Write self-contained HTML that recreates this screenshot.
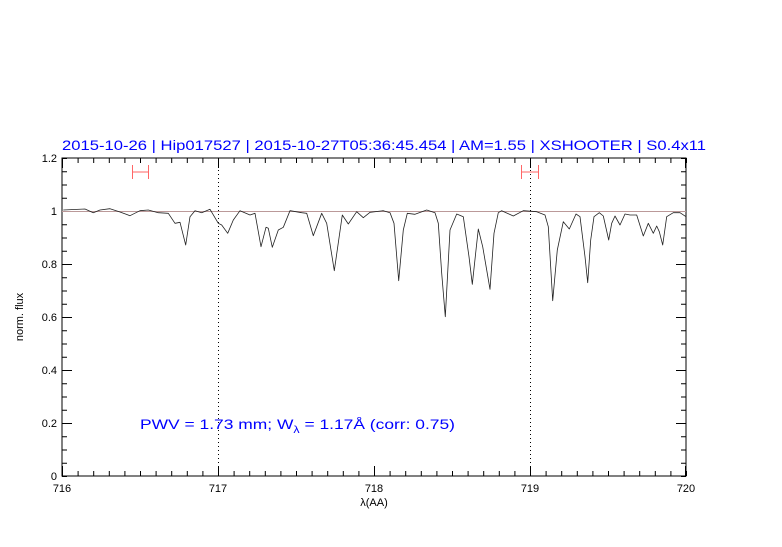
<!DOCTYPE html>
<html><head><meta charset="utf-8"><style>
body{margin:0;background:#fff;width:782px;height:542px;overflow:hidden}
svg text{font-family:"Liberation Sans",sans-serif}
</style></head><body>
<svg width="782" height="542" viewBox="0 0 782 542" xmlns="http://www.w3.org/2000/svg">
<rect x="62" y="158" width="624" height="318" fill="none" stroke="#000" stroke-width="1"/>
<g stroke="#000" fill="none">
<line x1="62" y1="473.5" x2="687" y2="473.5" stroke-width="5" stroke-dasharray="1 14.6"/>
<line x1="62" y1="160.5" x2="687" y2="160.5" stroke-width="5" stroke-dasharray="1 14.6"/>
<line x1="64.5" y1="158" x2="64.5" y2="477" stroke-width="5" stroke-dasharray="1 12.25"/>
<line x1="683.5" y1="158" x2="683.5" y2="477" stroke-width="5" stroke-dasharray="1 12.25"/>
<path d="M62.5 476v-10M218.5 476v-10M374.5 476v-10M530.5 476v-10M685.5 476v-10M62.5 158v10M218.5 158v10M374.5 158v10M530.5 158v10M685.5 158v10" stroke-width="1"/>
<path d="M62 423.5h10M62 370.5h10M62 317.5h10M62 264.5h10M62 211.5h10M686 423.5h-10M686 370.5h-10M686 317.5h-10M686 264.5h-10M686 211.5h-10" stroke-width="1"/>
</g>
<line x1="62" y1="211.5" x2="686" y2="211.5" stroke="#b99" stroke-width="1"/>
<line x1="218.5" y1="158" x2="218.5" y2="476" stroke="#000" stroke-width="1" stroke-dasharray="1 3"/>
<line x1="530.5" y1="158" x2="530.5" y2="476" stroke="#000" stroke-width="1" stroke-dasharray="1 3"/>
<g stroke="#f66" stroke-width="1">
<path d="M132.5 165v14M148.5 165v14M132 172h16M521.5 165v14M538.5 165v14M521 172h17"/>
</g>
<polyline fill="none" stroke="#222" stroke-width="0.8" stroke-linejoin="round" points="63.3,210 85,209 93.3,212.7 100,210 110,208.7 120,212 130,215.7 140,210.7 148.3,210 158.3,212.7 168.3,213.3 175,223.3 180,222.3 185.7,245 190,216.7 195,210.7 201.7,212.7 210,209.3 218.3,223.3 221.7,225 227.7,233.3 233.3,220 240,210.7 250,215 255,213.3 261,246.7 266,227.3 268.3,228.3 272.3,247.3 278.3,230 283.3,227.3 290,210.7 301.7,212.7 306.7,213.3 313.3,235.7 321.7,213.3 326.7,223.3 334.3,270.7 342.3,215 348.3,224 356.7,211.7 363.3,217.7 370,212.3 383.3,210.7 390,212.7 394,223.3 398.7,280.7 403.3,230 407.3,213.3 415,214.3 426.7,210 435,212.7 438.3,223.3 441.7,273.3 445.3,316.7 450,230 456.7,214 463.3,216.7 469,256.7 472.3,284.3 476,250 478.3,229 482.7,246.7 486.7,270 490,289.3 494,233.3 498.3,212.7 501.7,210.7 513.3,216 523.3,210.7 536.7,211.7 545,215 548.3,226.7 552.7,300.7 557.3,250 563.3,221.7 566,225 569.3,229 576,214 580,216.7 585,256.7 587.7,282.7 590.7,240 594,216.7 599.3,212.7 603.3,216 608.7,240 611.7,223.3 615,216 620,225 625,214 630,215 636.7,215 643.3,236 648.3,223.3 653.3,233.3 656.7,226 659.3,231.7 662.7,245 666.7,216.7 673.3,212.7 680,212.7 686,216.7"/>
<g font-size="11" fill="#000" text-anchor="end">
<text x="57" y="480">0</text><text x="57" y="427">0.2</text><text x="57" y="374">0.4</text><text x="57" y="321">0.6</text><text x="57" y="268">0.8</text><text x="57" y="215">1</text><text x="57" y="162">1.2</text>
</g>
<g font-size="11" fill="#000" text-anchor="middle">
<text x="62" y="492">716</text><text x="218" y="492">717</text><text x="374" y="492">718</text><text x="530" y="492">719</text><text x="686" y="492">720</text>
<text x="374" y="506">λ(AA)</text>
</g>
<text x="0" y="0" font-size="11" text-anchor="middle" transform="translate(23,317) rotate(-90)">norm. flux</text>
<text x="384" y="150" font-size="14" fill="#00f" text-anchor="middle" textLength="644" lengthAdjust="spacingAndGlyphs">2015-10-26 | Hip017527 | 2015-10-27T05:36:45.454 | AM=1.55 | XSHOOTER | S0.4x11</text>
<text x="140" y="429" font-size="14" fill="#00f" textLength="315" lengthAdjust="spacingAndGlyphs">PWV = 1.73 mm; W<tspan font-size="10" dy="4">λ</tspan><tspan dy="-4"> = 1.17Å (corr: 0.75)</tspan></text>
</svg>
</body></html>
